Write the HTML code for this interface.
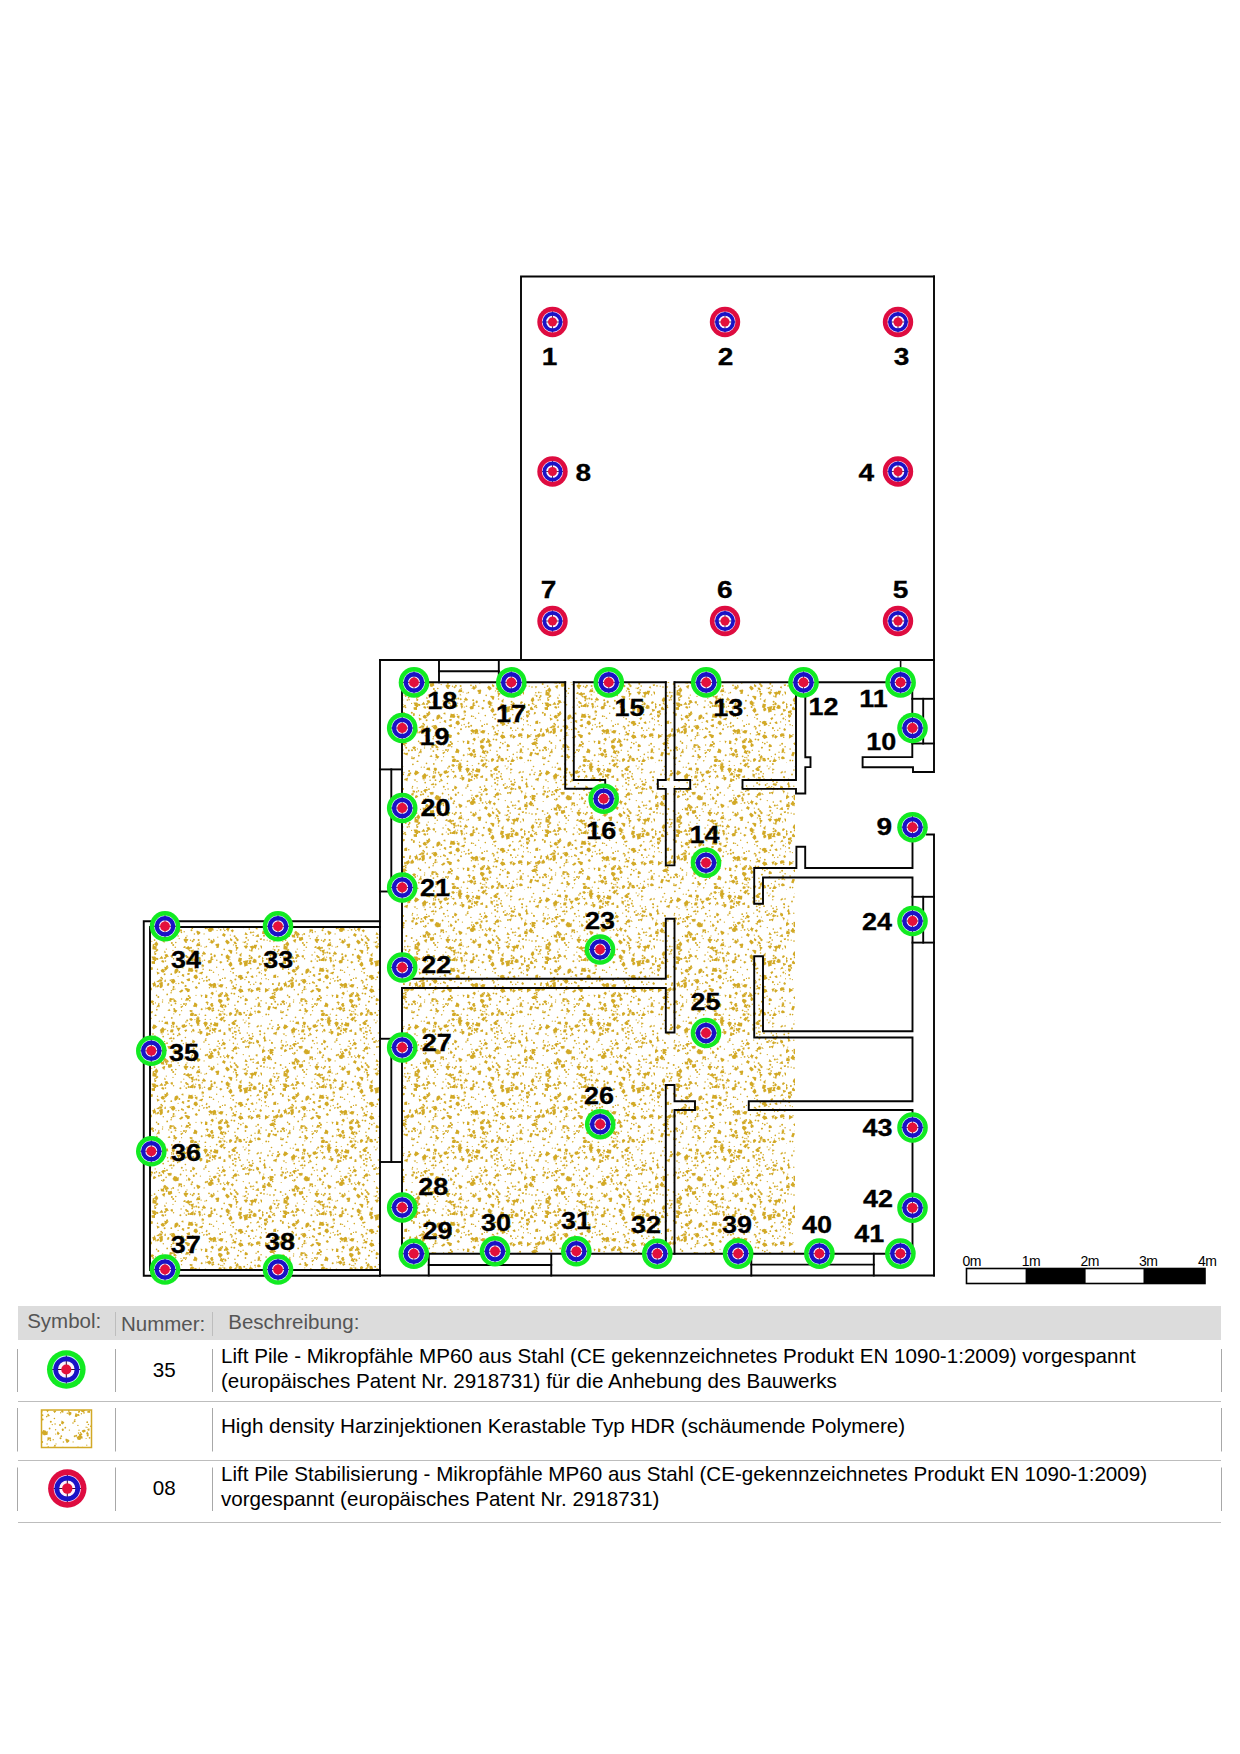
<!DOCTYPE html><html><head><meta charset="utf-8"><style>html,body{margin:0;padding:0;background:#fff;}body{width:1240px;height:1754px;overflow:hidden;position:relative;font-family:"Liberation Sans",sans-serif;}svg{position:absolute;left:0;top:0;}.lbl{font-family:"Liberation Sans",sans-serif;font-weight:bold;font-size:24px;fill:#000;stroke:#000;stroke-width:0.3px;}</style></head><body><svg width="1240" height="1754" viewBox="0 0 1240 1754"><defs><pattern id="sp" patternUnits="userSpaceOnUse" width="131" height="127"><g fill="#d2a926"><circle cx="59.3" cy="71.1" r="0.9"/><circle cx="59.2" cy="108.6" r="0.7"/><circle cx="24.2" cy="65.0" r="1.0"/><circle cx="103.9" cy="12.0" r="0.8"/><circle cx="18.6" cy="68.4" r="0.6"/><circle cx="78.0" cy="50.3" r="0.9"/><circle cx="85.7" cy="78.2" r="0.7"/><circle cx="81.6" cy="105.6" r="0.6"/><circle cx="7.8" cy="24.2" r="0.7"/><circle cx="78.5" cy="98.8" r="0.8"/><circle cx="57.7" cy="107.0" r="1.0"/><circle cx="30.6" cy="37.4" r="0.6"/><circle cx="86.8" cy="58.1" r="0.8"/><circle cx="53.3" cy="70.0" r="0.6"/><circle cx="92.7" cy="40.0" r="0.7"/><circle cx="67.2" cy="3.8" r="1.0"/><circle cx="100.4" cy="50.9" r="0.8"/><circle cx="50.6" cy="121.7" r="0.6"/><circle cx="28.0" cy="117.7" r="0.6"/><circle cx="61.6" cy="124.5" r="0.9"/><circle cx="55.0" cy="71.9" r="0.7"/><circle cx="102.0" cy="34.3" r="0.6"/><circle cx="40.8" cy="1.9" r="0.9"/><circle cx="99.3" cy="15.0" r="0.7"/><circle cx="92.6" cy="1.4" r="0.9"/><circle cx="104.4" cy="22.6" r="1.0"/><circle cx="24.7" cy="64.6" r="0.7"/><circle cx="54.9" cy="48.7" r="0.9"/><circle cx="55.1" cy="27.0" r="0.8"/><circle cx="113.2" cy="123.8" r="1.0"/><circle cx="39.8" cy="112.4" r="0.7"/><circle cx="24.5" cy="126.5" r="1.0"/><circle cx="84.1" cy="12.7" r="0.7"/><circle cx="27.9" cy="32.8" r="1.0"/><circle cx="43.1" cy="37.6" r="0.6"/><circle cx="9.7" cy="26.5" r="0.7"/><circle cx="2.0" cy="46.8" r="1.0"/><circle cx="59.4" cy="121.8" r="0.9"/><circle cx="109.0" cy="17.2" r="0.9"/><circle cx="24.0" cy="19.6" r="0.7"/><circle cx="107.1" cy="31.7" r="0.7"/><circle cx="20.8" cy="79.9" r="1.0"/><circle cx="25.8" cy="120.7" r="0.9"/><circle cx="79.1" cy="53.5" r="0.6"/><circle cx="14.3" cy="65.1" r="0.8"/><circle cx="31.2" cy="89.5" r="0.8"/><circle cx="55.1" cy="114.9" r="0.9"/><circle cx="38.4" cy="22.3" r="0.6"/><circle cx="16.6" cy="60.9" r="1.0"/><circle cx="80.5" cy="35.6" r="0.7"/><circle cx="98.1" cy="8.8" r="0.9"/><circle cx="58.4" cy="7.7" r="0.7"/><circle cx="36.9" cy="67.4" r="0.7"/><circle cx="12.1" cy="17.6" r="0.9"/><circle cx="128.4" cy="83.4" r="1.0"/><circle cx="76.6" cy="17.8" r="0.6"/><circle cx="121.0" cy="60.3" r="0.8"/><circle cx="91.8" cy="122.3" r="0.6"/><circle cx="78.4" cy="9.5" r="0.6"/><circle cx="95.7" cy="40.5" r="0.6"/><circle cx="9.9" cy="69.4" r="0.6"/><circle cx="117.9" cy="93.6" r="0.7"/><circle cx="103.9" cy="116.2" r="0.8"/><circle cx="11.1" cy="60.1" r="0.6"/><circle cx="114.1" cy="53.0" r="0.6"/><circle cx="113.1" cy="72.7" r="1.0"/><circle cx="86.8" cy="48.2" r="0.6"/><circle cx="79.8" cy="10.2" r="0.6"/><circle cx="130.1" cy="111.7" r="0.8"/><circle cx="50.9" cy="93.3" r="1.0"/><circle cx="60.0" cy="58.8" r="1.0"/><circle cx="11.0" cy="95.3" r="0.6"/><circle cx="40.6" cy="11.1" r="0.6"/><circle cx="30.2" cy="88.7" r="0.9"/><circle cx="102.2" cy="83.8" r="0.9"/><circle cx="33.5" cy="1.4" r="0.8"/><circle cx="18.8" cy="77.7" r="1.0"/><circle cx="22.2" cy="115.0" r="0.9"/><circle cx="65.3" cy="30.7" r="0.9"/><circle cx="87.2" cy="25.2" r="0.9"/><circle cx="105.3" cy="95.8" r="0.7"/><circle cx="115.3" cy="48.8" r="1.0"/><circle cx="120.6" cy="26.7" r="0.7"/><circle cx="65.0" cy="106.3" r="0.6"/><circle cx="93.2" cy="120.7" r="0.8"/><circle cx="107.7" cy="14.3" r="0.9"/><circle cx="36.0" cy="27.2" r="0.9"/><circle cx="50.1" cy="66.0" r="0.8"/><circle cx="93.8" cy="106.9" r="1.0"/><circle cx="59.3" cy="9.5" r="0.6"/><circle cx="36.4" cy="77.2" r="0.8"/><circle cx="74.7" cy="39.2" r="1.0"/><circle cx="2.5" cy="17.3" r="0.9"/><circle cx="24.9" cy="97.7" r="0.8"/><circle cx="31.1" cy="17.9" r="0.6"/><circle cx="128.9" cy="14.6" r="0.6"/><circle cx="82.5" cy="83.2" r="0.8"/><circle cx="125.6" cy="86.9" r="0.7"/><circle cx="107.9" cy="32.5" r="0.6"/><circle cx="98.9" cy="67.9" r="0.6"/><circle cx="23.5" cy="34.6" r="0.8"/><circle cx="70.7" cy="120.2" r="1.0"/><circle cx="80.5" cy="96.0" r="0.9"/><circle cx="111.2" cy="88.9" r="0.7"/><circle cx="11.4" cy="118.4" r="0.9"/><circle cx="17.0" cy="57.6" r="0.6"/><circle cx="49.4" cy="72.2" r="1.0"/><circle cx="104.4" cy="119.9" r="0.9"/><circle cx="42.8" cy="124.8" r="0.6"/><circle cx="94.6" cy="103.9" r="0.6"/><circle cx="27.9" cy="114.3" r="0.6"/><circle cx="128.0" cy="68.2" r="0.8"/><circle cx="34.3" cy="91.2" r="0.6"/><circle cx="45.7" cy="10.5" r="0.9"/><circle cx="44.8" cy="53.5" r="0.8"/><circle cx="63.9" cy="3.6" r="0.6"/><circle cx="56.2" cy="4.5" r="1.0"/><circle cx="43.9" cy="100.1" r="0.7"/><circle cx="61.6" cy="127.0" r="1.0"/><circle cx="110.0" cy="87.6" r="0.9"/><circle cx="75.8" cy="87.5" r="0.7"/><circle cx="57.6" cy="71.0" r="1.0"/><circle cx="83.7" cy="66.4" r="1.0"/><circle cx="33.6" cy="85.3" r="1.0"/><circle cx="27.3" cy="108.0" r="1.0"/><circle cx="68.7" cy="72.8" r="0.7"/><circle cx="53.9" cy="14.5" r="0.6"/><circle cx="79.3" cy="3.5" r="0.6"/><circle cx="67.6" cy="50.9" r="1.0"/><circle cx="16.0" cy="11.8" r="0.7"/><circle cx="8.6" cy="68.4" r="0.9"/><circle cx="120.6" cy="101.7" r="0.9"/><circle cx="35.3" cy="60.1" r="0.7"/><circle cx="44.5" cy="114.4" r="0.9"/><circle cx="68.8" cy="13.8" r="0.9"/><circle cx="80.9" cy="117.5" r="0.7"/><circle cx="92.0" cy="124.1" r="0.6"/><circle cx="25.4" cy="28.9" r="0.8"/><circle cx="42.2" cy="45.1" r="1.0"/><circle cx="65.3" cy="63.5" r="1.0"/><circle cx="16.1" cy="64.8" r="0.8"/><circle cx="94.0" cy="89.1" r="0.9"/><circle cx="3.0" cy="80.4" r="1.0"/><circle cx="80.7" cy="68.3" r="1.0"/><circle cx="83.6" cy="67.3" r="1.0"/><circle cx="80.1" cy="108.8" r="0.7"/><circle cx="119.8" cy="79.7" r="0.8"/><circle cx="118.3" cy="40.1" r="0.8"/><circle cx="116.7" cy="24.7" r="0.7"/><circle cx="116.3" cy="17.0" r="0.7"/><circle cx="17.4" cy="11.2" r="0.9"/><circle cx="12.7" cy="105.7" r="0.9"/><circle cx="71.2" cy="89.5" r="0.7"/><circle cx="52.8" cy="87.0" r="0.6"/><circle cx="12.6" cy="72.4" r="0.8"/><circle cx="119.4" cy="123.0" r="0.6"/><circle cx="92.3" cy="80.6" r="0.8"/><circle cx="65.9" cy="87.1" r="0.7"/><circle cx="105.2" cy="61.2" r="0.6"/><circle cx="4.9" cy="70.1" r="1.0"/><circle cx="118.6" cy="61.1" r="0.7"/><circle cx="24.2" cy="25.9" r="0.7"/><circle cx="129.7" cy="117.7" r="0.6"/><circle cx="76.0" cy="17.1" r="0.9"/><circle cx="10.2" cy="12.3" r="0.9"/><circle cx="61.2" cy="65.4" r="0.9"/><circle cx="27.5" cy="47.4" r="0.6"/><circle cx="110.6" cy="23.0" r="0.9"/><circle cx="47.1" cy="47.0" r="0.7"/><circle cx="79.2" cy="12.0" r="0.6"/><circle cx="42.4" cy="10.8" r="0.9"/><circle cx="74.6" cy="24.3" r="1.0"/><circle cx="128.7" cy="102.2" r="0.8"/><circle cx="36.6" cy="14.8" r="0.7"/><circle cx="106.7" cy="51.5" r="0.8"/><circle cx="115.3" cy="88.2" r="0.9"/><circle cx="100.2" cy="51.5" r="0.7"/><circle cx="9.2" cy="43.4" r="0.9"/><circle cx="13.2" cy="112.8" r="1.0"/><circle cx="6.5" cy="34.7" r="0.8"/><circle cx="44.3" cy="83.8" r="1.0"/><circle cx="23.8" cy="9.8" r="1.0"/><circle cx="131.0" cy="81.6" r="0.6"/><circle cx="99.8" cy="124.5" r="0.6"/><circle cx="15.0" cy="13.7" r="0.7"/><circle cx="33.6" cy="51.0" r="0.6"/><circle cx="99.7" cy="82.3" r="0.6"/><circle cx="12.9" cy="31.9" r="0.8"/><circle cx="72.1" cy="64.5" r="1.0"/><circle cx="74.4" cy="126.4" r="0.9"/><circle cx="106.0" cy="9.7" r="1.0"/><circle cx="87.6" cy="121.3" r="0.9"/><circle cx="121.9" cy="20.3" r="0.9"/><circle cx="127.1" cy="108.7" r="1.0"/><circle cx="80.1" cy="7.4" r="0.9"/><circle cx="55.1" cy="66.9" r="1.0"/><circle cx="40.9" cy="67.4" r="0.9"/><circle cx="85.8" cy="71.2" r="0.8"/><circle cx="86.9" cy="95.0" r="0.6"/><circle cx="1.8" cy="31.1" r="0.6"/><circle cx="82.9" cy="51.9" r="0.9"/><circle cx="6.9" cy="40.0" r="0.9"/><circle cx="6.6" cy="125.6" r="0.8"/><circle cx="9.6" cy="115.0" r="0.9"/><circle cx="94.2" cy="31.9" r="0.7"/><circle cx="6.0" cy="12.5" r="0.9"/><circle cx="18.9" cy="121.9" r="0.7"/><circle cx="79.1" cy="14.6" r="1.0"/><circle cx="54.6" cy="15.0" r="0.6"/><circle cx="46.7" cy="19.6" r="0.8"/><circle cx="58.0" cy="84.8" r="0.9"/><circle cx="78.7" cy="81.2" r="0.9"/><circle cx="47.7" cy="94.5" r="0.7"/><circle cx="124.8" cy="93.3" r="0.7"/><circle cx="63.0" cy="63.9" r="0.8"/><circle cx="102.7" cy="79.4" r="0.8"/><circle cx="36.0" cy="77.4" r="1.0"/><circle cx="91.6" cy="24.1" r="0.8"/><circle cx="98.7" cy="24.1" r="0.7"/><circle cx="65.8" cy="82.9" r="0.7"/><circle cx="115.1" cy="5.0" r="0.6"/><circle cx="1.2" cy="33.0" r="0.6"/><circle cx="81.7" cy="13.0" r="1.0"/><circle cx="36.5" cy="96.0" r="0.7"/><circle cx="72.1" cy="80.2" r="0.8"/><circle cx="63.4" cy="45.0" r="0.8"/><circle cx="45.0" cy="94.6" r="0.6"/><circle cx="105.1" cy="56.8" r="1.0"/><circle cx="109.8" cy="97.7" r="0.9"/><circle cx="55.6" cy="32.8" r="0.7"/><circle cx="48.3" cy="83.0" r="1.0"/><circle cx="42.6" cy="69.7" r="0.7"/><circle cx="56.0" cy="46.9" r="0.6"/><circle cx="60.5" cy="41.2" r="1.0"/><circle cx="10.9" cy="71.7" r="0.9"/><circle cx="106.8" cy="58.9" r="0.6"/><circle cx="10.0" cy="27.1" r="1.0"/><circle cx="10.7" cy="38.6" r="0.8"/><circle cx="37.1" cy="18.2" r="0.8"/><circle cx="86.1" cy="41.5" r="0.6"/><circle cx="42.2" cy="56.0" r="1.0"/><circle cx="120.3" cy="119.4" r="0.8"/><circle cx="57.4" cy="102.0" r="0.8"/><circle cx="60.0" cy="28.1" r="1.0"/><circle cx="32.5" cy="45.9" r="0.8"/><circle cx="3.2" cy="86.0" r="1.0"/><circle cx="50.8" cy="24.8" r="1.0"/><circle cx="48.2" cy="49.6" r="0.7"/><circle cx="109.6" cy="71.5" r="0.7"/><circle cx="11.8" cy="57.7" r="0.8"/><circle cx="106.4" cy="28.1" r="0.6"/><circle cx="71.3" cy="72.1" r="0.6"/><circle cx="85.3" cy="102.1" r="0.6"/><circle cx="76.2" cy="38.8" r="1.0"/><circle cx="11.0" cy="10.4" r="0.6"/><circle cx="117.8" cy="10.8" r="0.7"/><circle cx="12.8" cy="103.7" r="0.9"/><circle cx="32.2" cy="28.0" r="1.0"/><circle cx="44.3" cy="58.3" r="0.8"/><circle cx="44.3" cy="123.0" r="0.7"/><circle cx="64.7" cy="68.2" r="0.6"/><circle cx="92.8" cy="116.2" r="0.9"/><circle cx="99.2" cy="125.2" r="0.8"/><circle cx="111.8" cy="102.4" r="0.6"/><circle cx="116.4" cy="121.6" r="0.6"/><circle cx="68.6" cy="90.2" r="0.6"/><circle cx="55.2" cy="53.4" r="0.7"/><circle cx="32.2" cy="20.6" r="0.9"/><circle cx="89.6" cy="40.8" r="0.9"/><circle cx="55.7" cy="37.1" r="0.6"/><circle cx="61.8" cy="92.8" r="0.8"/><circle cx="84.9" cy="98.5" r="0.7"/><circle cx="119.5" cy="95.6" r="0.6"/><circle cx="76.5" cy="115.5" r="0.6"/><circle cx="40.9" cy="25.1" r="0.8"/><circle cx="28.5" cy="29.9" r="0.9"/><circle cx="77.9" cy="28.4" r="0.7"/><circle cx="117.2" cy="51.1" r="0.8"/><circle cx="82.1" cy="119.6" r="1.0"/><circle cx="62.8" cy="33.1" r="0.9"/><circle cx="119.8" cy="43.4" r="1.0"/><circle cx="101.1" cy="11.7" r="0.7"/><circle cx="52.3" cy="27.6" r="0.7"/><circle cx="105.0" cy="48.9" r="1.0"/><circle cx="104.1" cy="98.3" r="0.6"/><circle cx="86.1" cy="30.2" r="0.6"/><circle cx="114.5" cy="115.0" r="0.9"/><circle cx="104.4" cy="90.6" r="1.0"/><circle cx="114.6" cy="52.8" r="0.8"/><circle cx="19.0" cy="115.3" r="1.0"/><circle cx="17.2" cy="94.2" r="1.0"/><circle cx="34.9" cy="67.9" r="0.7"/><circle cx="74.9" cy="22.6" r="0.7"/><circle cx="107.6" cy="107.5" r="0.7"/><circle cx="10.8" cy="34.3" r="1.0"/><circle cx="12.7" cy="61.0" r="0.9"/><circle cx="10.9" cy="95.1" r="1.0"/><circle cx="112.3" cy="38.6" r="0.7"/><circle cx="54.6" cy="116.4" r="0.6"/><circle cx="102.4" cy="55.9" r="0.6"/><circle cx="71.2" cy="66.8" r="0.7"/><circle cx="124.0" cy="122.4" r="0.8"/><circle cx="40.7" cy="9.7" r="0.8"/><circle cx="130.6" cy="84.7" r="0.6"/><circle cx="47.1" cy="87.3" r="0.6"/><circle cx="87.5" cy="85.8" r="0.6"/><circle cx="85.7" cy="1.6" r="0.9"/><circle cx="93.2" cy="60.4" r="0.8"/><circle cx="73.9" cy="58.2" r="0.6"/><circle cx="112.1" cy="107.3" r="0.7"/><circle cx="118.1" cy="19.3" r="0.9"/><circle cx="122.8" cy="95.2" r="0.8"/><circle cx="98.9" cy="70.6" r="0.6"/><circle cx="33.6" cy="25.4" r="0.6"/><circle cx="43.2" cy="120.0" r="1.0"/><circle cx="61.5" cy="81.3" r="0.9"/><circle cx="108.3" cy="11.7" r="0.7"/><circle cx="81.4" cy="16.7" r="0.7"/><circle cx="23.6" cy="51.1" r="0.9"/><circle cx="77.6" cy="11.4" r="0.7"/><circle cx="4.2" cy="125.4" r="0.9"/><circle cx="53.3" cy="9.2" r="0.9"/><circle cx="121.4" cy="17.7" r="0.7"/><circle cx="100.5" cy="104.3" r="0.9"/><circle cx="63.2" cy="117.0" r="1.0"/><circle cx="2.0" cy="50.9" r="0.8"/><circle cx="128.6" cy="100.3" r="1.0"/><circle cx="69.4" cy="33.1" r="0.7"/><circle cx="44.8" cy="82.6" r="0.6"/><circle cx="73.0" cy="26.0" r="0.8"/><circle cx="103.3" cy="104.8" r="1.0"/><circle cx="93.5" cy="32.2" r="1.0"/><circle cx="118.3" cy="69.6" r="0.8"/><circle cx="80.2" cy="65.2" r="1.0"/><circle cx="93.5" cy="125.3" r="1.0"/><circle cx="130.8" cy="89.8" r="0.7"/><circle cx="74.3" cy="3.4" r="0.7"/><circle cx="101.7" cy="17.3" r="0.9"/><circle cx="75.5" cy="88.5" r="0.8"/><circle cx="12.0" cy="110.8" r="0.8"/><circle cx="60.7" cy="15.8" r="0.7"/><circle cx="31.3" cy="72.3" r="1.0"/><circle cx="73.5" cy="71.2" r="0.8"/><circle cx="22.1" cy="94.7" r="0.8"/><circle cx="78.8" cy="15.6" r="0.6"/><circle cx="37.8" cy="113.9" r="0.7"/><circle cx="99.3" cy="46.1" r="0.7"/><circle cx="24.3" cy="69.6" r="0.6"/><circle cx="59.5" cy="51.2" r="0.7"/><circle cx="40.3" cy="85.2" r="0.9"/><circle cx="80.6" cy="81.3" r="0.6"/><circle cx="20.8" cy="52.3" r="0.6"/><circle cx="18.7" cy="49.1" r="1.0"/><circle cx="53.2" cy="42.7" r="0.7"/><circle cx="34.5" cy="72.1" r="0.8"/><circle cx="7.0" cy="99.6" r="0.7"/><circle cx="52.8" cy="63.2" r="0.6"/><circle cx="61.6" cy="52.3" r="1.0"/><circle cx="119.6" cy="71.7" r="0.9"/><circle cx="98.5" cy="61.7" r="0.9"/><circle cx="109.8" cy="108.6" r="0.9"/><circle cx="108.1" cy="14.9" r="0.6"/><circle cx="118.6" cy="66.8" r="1.0"/><circle cx="68.2" cy="53.4" r="0.6"/><circle cx="42.0" cy="6.9" r="1.0"/><circle cx="117.9" cy="93.0" r="1.0"/><circle cx="42.2" cy="100.3" r="1.0"/><circle cx="114.9" cy="31.0" r="0.9"/><circle cx="31.7" cy="110.9" r="0.6"/><circle cx="62.3" cy="13.4" r="0.7"/><circle cx="71.4" cy="83.4" r="0.7"/><circle cx="115.2" cy="126.9" r="0.8"/><circle cx="113.5" cy="53.5" r="0.7"/><circle cx="29.1" cy="94.8" r="1.0"/><circle cx="16.1" cy="9.1" r="1.0"/><circle cx="103.8" cy="15.7" r="1.0"/><circle cx="75.4" cy="57.6" r="0.8"/><circle cx="32.0" cy="38.0" r="0.8"/><circle cx="22.5" cy="56.0" r="0.9"/><circle cx="106.8" cy="50.5" r="0.8"/><circle cx="90.7" cy="29.3" r="0.8"/><circle cx="4.1" cy="114.1" r="0.8"/><circle cx="42.5" cy="18.2" r="0.9"/><circle cx="115.1" cy="25.7" r="0.6"/><circle cx="25.6" cy="106.4" r="0.8"/><circle cx="117.8" cy="2.0" r="1.0"/><circle cx="26.5" cy="80.3" r="0.7"/><circle cx="124.4" cy="124.0" r="0.6"/><circle cx="40.1" cy="103.8" r="0.8"/><circle cx="113.9" cy="90.6" r="0.7"/><circle cx="43.9" cy="121.5" r="0.9"/><circle cx="54.4" cy="21.5" r="0.8"/><circle cx="15.8" cy="87.8" r="0.8"/><circle cx="23.7" cy="29.9" r="0.8"/><circle cx="103.6" cy="47.3" r="1.0"/><circle cx="115.9" cy="74.9" r="0.7"/><circle cx="128.0" cy="113.7" r="0.7"/><circle cx="87.4" cy="35.2" r="0.6"/><circle cx="60.6" cy="9.7" r="1.0"/><circle cx="9.7" cy="115.2" r="0.6"/><circle cx="78.6" cy="36.1" r="0.8"/><circle cx="55.5" cy="72.2" r="0.7"/><circle cx="37.4" cy="96.0" r="0.7"/><circle cx="23.5" cy="93.2" r="0.6"/><circle cx="24.4" cy="113.9" r="0.6"/><circle cx="81.5" cy="116.4" r="1.0"/><circle cx="50.4" cy="118.0" r="0.9"/><circle cx="7.9" cy="8.1" r="0.8"/><circle cx="42.0" cy="61.4" r="0.6"/><circle cx="67.7" cy="64.2" r="1.0"/><circle cx="97.5" cy="67.5" r="1.0"/><circle cx="102.1" cy="21.0" r="1.0"/><circle cx="57.1" cy="84.9" r="1.0"/><circle cx="101.3" cy="99.9" r="0.7"/><circle cx="34.0" cy="69.1" r="1.0"/><circle cx="79.0" cy="33.2" r="0.7"/><circle cx="78.2" cy="90.8" r="1.0"/><circle cx="58.7" cy="111.8" r="0.8"/><circle cx="19.9" cy="2.3" r="0.9"/><circle cx="105.6" cy="64.0" r="0.8"/><circle cx="112.2" cy="3.9" r="0.6"/><circle cx="118.9" cy="72.2" r="1.0"/><circle cx="75.9" cy="91.7" r="1.0"/><circle cx="19.2" cy="39.5" r="0.6"/><circle cx="91.1" cy="104.1" r="1.0"/><circle cx="102.3" cy="97.2" r="0.9"/><circle cx="11.6" cy="104.2" r="0.7"/><circle cx="49.6" cy="31.5" r="0.9"/><circle cx="90.5" cy="105.5" r="0.9"/><circle cx="8.0" cy="52.1" r="0.8"/><circle cx="91.5" cy="89.4" r="0.6"/><circle cx="16.8" cy="95.9" r="1.0"/><circle cx="129.2" cy="18.4" r="0.9"/><circle cx="68.3" cy="125.2" r="0.6"/><circle cx="31.5" cy="113.0" r="0.7"/><circle cx="12.0" cy="70.6" r="0.9"/><circle cx="55.6" cy="9.7" r="0.6"/><circle cx="89.1" cy="91.1" r="1.0"/><circle cx="30.1" cy="32.2" r="1.0"/><circle cx="112.1" cy="53.1" r="0.6"/><circle cx="122.2" cy="46.2" r="0.8"/><circle cx="124.0" cy="117.2" r="0.7"/><circle cx="5.2" cy="51.2" r="0.6"/><circle cx="96.6" cy="72.1" r="1.0"/><circle cx="121.0" cy="22.5" r="0.9"/><circle cx="122.5" cy="27.1" r="0.9"/><circle cx="102.4" cy="27.4" r="0.8"/><circle cx="32.3" cy="100.7" r="0.7"/><circle cx="62.9" cy="50.8" r="1.0"/><circle cx="61.3" cy="39.2" r="0.9"/><circle cx="64.2" cy="79.6" r="0.7"/><circle cx="113.0" cy="26.0" r="0.9"/><circle cx="54.9" cy="6.0" r="0.8"/><circle cx="47.5" cy="34.9" r="0.6"/><circle cx="68.0" cy="94.2" r="1.0"/><circle cx="51.5" cy="117.3" r="0.7"/><circle cx="35.2" cy="45.9" r="0.7"/><circle cx="95.4" cy="98.7" r="0.7"/><circle cx="100.3" cy="91.9" r="0.6"/><circle cx="2.7" cy="40.9" r="0.9"/><circle cx="58.9" cy="108.5" r="0.9"/><circle cx="42.6" cy="97.9" r="1.0"/><circle cx="87.7" cy="38.4" r="1.0"/><circle cx="31.2" cy="5.2" r="0.7"/><circle cx="67.3" cy="16.2" r="0.7"/><circle cx="40.9" cy="53.9" r="1.0"/><circle cx="90.9" cy="65.7" r="1.0"/><circle cx="34.1" cy="92.1" r="0.9"/><circle cx="19.3" cy="26.0" r="0.8"/><circle cx="70.1" cy="57.1" r="0.7"/><circle cx="50.6" cy="110.0" r="0.7"/><circle cx="13.4" cy="47.0" r="1.0"/><circle cx="28.3" cy="5.2" r="0.6"/><circle cx="97.9" cy="61.3" r="0.6"/><circle cx="105.9" cy="123.9" r="0.8"/><circle cx="86.5" cy="8.5" r="0.7"/><circle cx="73.1" cy="44.9" r="0.6"/><circle cx="125.1" cy="110.3" r="0.7"/><circle cx="102.6" cy="33.0" r="0.9"/><circle cx="15.7" cy="62.6" r="0.9"/><circle cx="50.2" cy="41.7" r="0.9"/><circle cx="92.1" cy="28.1" r="0.9"/><circle cx="26.5" cy="97.6" r="0.8"/><circle cx="87.1" cy="30.5" r="0.6"/><circle cx="97.3" cy="115.3" r="0.7"/><circle cx="62.7" cy="32.6" r="1.0"/><circle cx="40.4" cy="116.1" r="0.9"/><circle cx="15.8" cy="115.5" r="0.9"/><circle cx="35.6" cy="47.9" r="1.0"/><circle cx="39.3" cy="91.3" r="0.8"/><circle cx="9.5" cy="4.5" r="0.8"/><circle cx="116.8" cy="71.8" r="0.8"/><circle cx="106.8" cy="112.7" r="0.9"/><circle cx="50.4" cy="43.4" r="0.8"/><circle cx="4.1" cy="89.8" r="0.7"/><circle cx="101.1" cy="79.7" r="1.0"/><circle cx="71.1" cy="77.8" r="0.6"/><circle cx="36.2" cy="105.4" r="0.9"/><circle cx="50.0" cy="115.5" r="0.6"/><circle cx="105.3" cy="86.8" r="0.8"/><circle cx="40.4" cy="45.8" r="0.6"/><circle cx="19.6" cy="24.4" r="0.7"/><circle cx="33.8" cy="27.9" r="1.0"/><circle cx="0.1" cy="69.1" r="0.9"/><circle cx="0.5" cy="69.5" r="1.0"/><circle cx="10.4" cy="104.6" r="0.8"/><circle cx="34.6" cy="13.2" r="0.6"/><circle cx="41.0" cy="90.9" r="0.9"/><circle cx="89.9" cy="122.4" r="0.7"/><circle cx="20.9" cy="78.9" r="0.9"/><circle cx="105.5" cy="37.3" r="0.9"/><circle cx="37.4" cy="95.1" r="1.0"/><circle cx="65.3" cy="82.1" r="0.8"/><circle cx="42.6" cy="22.6" r="1.0"/><circle cx="96.6" cy="111.4" r="0.6"/><circle cx="107.1" cy="112.5" r="0.8"/><circle cx="14.8" cy="57.4" r="0.9"/><circle cx="5.3" cy="78.9" r="0.9"/><circle cx="113.9" cy="6.8" r="0.8"/><circle cx="52.1" cy="93.9" r="0.9"/><circle cx="33.1" cy="80.6" r="0.8"/><circle cx="93.8" cy="41.5" r="0.8"/><circle cx="112.1" cy="26.0" r="1.0"/><circle cx="108.5" cy="72.1" r="0.9"/><circle cx="84.0" cy="15.9" r="0.8"/><circle cx="105.0" cy="15.9" r="0.9"/><circle cx="81.4" cy="37.1" r="0.7"/><circle cx="127.6" cy="59.9" r="0.7"/><circle cx="35.1" cy="34.4" r="0.8"/><circle cx="82.7" cy="50.4" r="0.7"/><circle cx="6.4" cy="90.6" r="0.6"/><circle cx="114.1" cy="24.6" r="0.8"/><circle cx="95.8" cy="126.2" r="0.6"/><circle cx="53.0" cy="114.9" r="1.0"/><circle cx="112.1" cy="21.7" r="0.6"/><circle cx="40.5" cy="101.7" r="0.8"/><circle cx="29.3" cy="91.7" r="0.9"/><circle cx="100.3" cy="124.6" r="0.9"/><circle cx="88.4" cy="27.5" r="0.8"/><circle cx="104.8" cy="18.7" r="0.7"/><polygon points="106.9,72.6 107.8,68.5 111.1,69.3 110.2,72.2"/><polygon points="27.3,70.8 26.6,71.1 24.6,70.5 25.2,68.8 27.2,69.1"/><polygon points="105.0,49.2 106.9,49.5 105.7,52.2"/><polygon points="76.0,119.4 74.4,120.8 74.6,118.1"/><polygon points="66.4,2.0 66.5,-0.2 68.6,1.6"/><polygon points="67.3,84.2 71.4,82.6 71.3,85.6"/><polygon points="43.0,89.7 44.3,91.9 42.3,93.9 41.2,93.5 41.3,90.6"/><polygon points="96.9,70.7 96.2,69.3 97.2,68.2 98.9,68.2 98.0,71.1"/><polygon points="3.8,24.1 0.8,22.2 2.9,19.6"/><polygon points="25.4,34.3 24.2,35.6 22.1,36.3 22.1,34.1 23.1,33.1"/><polygon points="55.2,90.5 58.6,89.1 59.2,91.7 57.0,92.3"/><polygon points="76.5,72.4 77.8,71.1 80.8,71.3 80.4,74.1 77.6,74.4"/><polygon points="62.3,72.3 58.8,71.4 62.6,67.2"/><polygon points="108.8,102.5 107.1,101.9 107.8,100.3 109.1,99.8 110.6,102.1"/><polygon points="28.6,14.3 31.8,11.0 34.1,13.6 30.9,15.4"/><polygon points="49.8,11.7 47.5,15.4 45.4,11.7"/><polygon points="61.5,65.2 59.1,61.2 63.0,60.6"/><polygon points="3.9,42.7 3.5,45.5 -0.1,44.6 0.7,41.5"/><polygon points="33.8,45.7 32.4,44.4 32.4,43.0 33.9,41.8 36.0,43.5"/><polygon points="54.7,58.8 53.3,59.1 51.9,58.6 53.6,56.9 54.6,57.4"/><polygon points="61.0,26.5 61.6,23.5 64.4,25.3 62.9,27.5"/><polygon points="33.1,50.8 33.6,54.3 30.6,51.6"/><polygon points="85.2,58.9 85.9,56.3 87.7,58.4"/><polygon points="3.7,81.6 2.1,80.8 2.4,79.6 4.3,80.0"/><polygon points="32.4,69.7 28.2,69.8 30.7,66.7"/><polygon points="48.2,16.4 50.0,18.9 47.6,19.4 47.3,17.3"/><polygon points="117.2,54.2 116.6,55.9 114.5,54.8"/><polygon points="12.4,100.1 15.9,98.0 16.9,100.8 14.0,102.9"/><polygon points="58.9,125.0 60.5,123.5 63.2,124.5 62.0,127.2 59.5,127.4"/><polygon points="126.2,50.7 127.3,53.4 124.8,52.7"/><polygon points="65.1,113.9 66.5,115.8 65.5,118.4 62.7,116.8 63.3,113.6"/><polygon points="125.6,73.5 123.2,74.1 121.2,73.1 122.9,69.6 125.4,70.8"/><polygon points="39.1,67.1 41.6,65.8 41.5,69.3"/><polygon points="28.9,96.3 28.9,93.5 31.7,92.8 31.8,97.4"/><polygon points="25.5,96.9 27.7,95.6 28.5,97.9"/><polygon points="103.7,55.3 102.4,52.8 104.4,52.4 106.1,55.0"/><polygon points="83.0,6.0 84.9,6.6 84.8,8.6 83.4,7.8"/><polygon points="98.2,52.6 98.7,54.0 96.3,55.6 94.1,52.6 95.8,50.6"/><polygon points="93.7,106.1 95.7,103.4 97.9,107.0 95.2,108.1"/><polygon points="70.1,108.4 69.6,105.5 71.7,106.3"/><polygon points="58.4,102.8 56.4,103.2 55.4,101.6 56.3,99.2 59.0,100.2"/><polygon points="76.2,108.9 73.9,108.9 74.2,105.2 76.5,105.9"/><polygon points="120.2,100.1 123.0,101.6 120.5,103.7 119.3,102.3"/><polygon points="99.1,14.7 97.5,14.5 97.5,11.5 100.4,12.6"/><polygon points="40.1,33.0 37.8,31.6 41.0,30.0"/><polygon points="121.7,86.2 122.7,88.4 121.1,88.9 119.3,87.6"/><polygon points="86.2,36.7 86.7,35.2 88.5,35.9 88.7,37.7 87.0,37.8"/><polygon points="94.6,66.7 96.6,65.3 98.4,68.0 97.1,70.2 94.9,69.2"/><polygon points="83.5,35.7 81.9,34.5 81.9,33.4 84.2,32.6 86.1,34.1"/><polygon points="38.8,109.1 43.5,109.8 38.0,112.8"/><polygon points="121.2,70.6 119.0,69.5 120.0,67.0 121.8,68.3"/><polygon points="64.6,69.9 64.8,71.3 63.2,72.4 62.5,71.2 63.7,69.3"/><polygon points="103.4,125.2 105.3,124.1 105.7,126.1 104.0,129.2 103.3,127.8"/><polygon points="109.1,85.7 111.6,86.5 110.2,89.1 107.6,89.3 106.5,87.0"/><polygon points="115.4,30.6 118.8,29.3 117.8,32.4"/><polygon points="20.9,31.0 20.3,33.7 18.2,32.9 18.5,31.3"/><polygon points="8.1,62.5 9.7,62.4 10.4,65.2 8.4,67.6 6.6,65.3"/><polygon points="117.3,126.6 119.1,123.7 122.0,125.3 119.6,127.7"/><polygon points="126.5,118.0 126.9,114.4 129.7,117.2"/><polygon points="122.2,42.2 123.7,43.4 120.5,44.1"/><polygon points="126.3,55.7 124.6,60.2 122.7,58.2 123.0,55.7"/><polygon points="36.1,64.9 37.2,66.5 35.8,68.7 33.9,66.8 33.7,65.4"/><polygon points="86.0,12.8 83.4,15.6 80.9,14.5 83.9,11.7"/><polygon points="101.9,51.3 98.8,51.3 99.3,48.8"/><polygon points="81.3,8.0 79.5,9.5 79.4,6.7"/><polygon points="80.5,39.5 82.4,39.2 82.7,41.4 80.8,41.6"/><polygon points="118.3,83.2 116.6,85.2 115.2,83.6 117.2,81.9"/><polygon points="14.1,89.1 11.1,88.7 11.5,85.9 14.2,85.5"/><polygon points="72.0,7.2 74.0,5.4 76.6,6.2 75.2,9.4"/><polygon points="102.3,33.4 103.2,31.0 105.2,30.1 106.3,32.6 105.2,33.8"/><polygon points="108.8,99.3 111.9,100.7 112.1,102.8 109.1,104.1 107.5,101.6"/><polygon points="69.3,43.1 69.2,44.4 66.9,46.3 65.3,42.9 65.9,41.5"/><polygon points="99.6,123.1 101.2,124.3 99.9,126.5 98.4,127.0 97.9,124.0"/><polygon points="95.1,4.2 93.0,6.5 91.9,3.5"/><polygon points="92.9,2.1 90.6,5.3 88.2,3.4 90.5,0.9"/><polygon points="46.6,35.7 44.4,38.4 41.4,35.9 43.2,33.1 45.2,33.6"/><polygon points="46.4,121.4 45.2,123.3 42.1,122.6 43.4,120.2"/><polygon points="92.5,95.5 91.3,98.5 89.7,98.6 86.8,97.1 89.7,94.9"/><polygon points="125.5,101.9 124.8,99.4 126.5,98.3 129.4,98.5 127.7,101.4"/><polygon points="11.2,33.3 10.7,35.3 8.7,35.9 7.3,34.0 7.7,32.8"/><polygon points="33.3,72.9 31.9,74.1 31.2,71.5 32.7,71.4"/><polygon points="129.8,14.2 130.1,16.3 128.6,16.1 127.7,15.0"/><polygon points="26.3,85.7 25.6,82.6 29.0,83.9"/><polygon points="112.6,57.0 115.8,56.2 117.0,57.4 115.0,60.0"/><polygon points="130.4,60.0 129.1,56.4 131.9,57.0"/><polygon points="53.4,97.9 53.9,95.8 55.5,96.3 55.6,97.8"/><polygon points="84.5,10.4 83.0,8.3 85.2,6.7 87.3,6.7 87.0,10.6"/><polygon points="68.7,1.8 67.3,4.4 65.4,4.5 65.2,1.5 66.3,1.5"/><polygon points="62.8,69.8 61.7,72.2 58.4,71.1 60.6,68.9"/><polygon points="34.0,45.2 36.2,43.4 37.9,45.3 37.0,46.4 34.2,46.9"/><polygon points="2.0,22.6 4.9,25.0 1.9,25.7"/><polygon points="42.3,109.2 46.0,112.5 42.7,113.2"/><polygon points="73.2,75.9 72.4,78.2 70.2,76.3 71.2,75.2"/><polygon points="93.1,29.4 90.8,27.4 92.6,25.6 95.0,27.8"/><polygon points="76.5,10.0 78.5,13.3 74.2,13.4"/><polygon points="79.5,68.4 82.8,70.3 79.4,72.0"/><polygon points="32.0,37.9 31.7,36.6 33.2,35.8 33.8,37.7"/><polygon points="114.4,108.8 116.6,109.9 116.8,112.1 113.7,112.3 113.8,110.2"/><polygon points="37.2,48.7 40.7,47.7 41.3,50.4 38.8,52.0 36.8,51.1"/><polygon points="114.8,127.2 114.3,125.3 116.7,125.5"/><polygon points="130.7,10.7 128.5,10.2 130.6,8.7"/><polygon points="101.4,76.3 99.5,78.0 97.2,75.4 99.5,72.4 101.0,74.1"/><polygon points="94.4,115.6 95.6,117.2 95.0,118.5 93.2,118.3 93.7,116.8"/><polygon points="3.0,98.9 7.5,101.1 2.9,103.8"/><polygon points="98.8,39.1 97.1,43.1 95.1,39.6"/><polygon points="23.4,64.4 23.0,62.4 25.5,62.1"/><polygon points="108.8,87.4 111.4,87.6 112.6,89.3 110.8,90.5 108.8,91.0"/><polygon points="47.5,40.2 51.0,40.5 47.4,44.3"/><polygon points="59.1,60.5 59.3,63.1 57.2,61.1"/><polygon points="101.5,92.2 98.3,92.2 99.7,90.4"/><polygon points="94.4,16.4 94.5,18.9 92.3,18.9 92.8,16.1"/><polygon points="20.9,68.8 20.6,67.4 23.3,67.5 23.2,70.0"/><polygon points="54.9,101.4 53.5,99.2 56.1,99.1 56.7,100.7"/><polygon points="40.4,29.7 38.1,33.5 36.2,30.3"/><polygon points="96.0,107.6 98.8,109.7 98.3,111.6 95.3,111.3"/><polygon points="33.8,61.5 35.1,63.8 32.8,63.4"/><polygon points="57.6,109.7 58.6,107.5 60.1,109.2"/><polygon points="-1.2,-1.5 1.9,-0.9 -1.5,2.0"/><polygon points="21.4,60.2 21.6,56.5 25.7,57.4 25.4,60.9"/><polygon points="125.5,23.5 128.0,24.7 128.1,27.0 126.0,27.6 125.1,25.4"/><polygon points="89.4,31.2 89.6,33.5 88.0,33.8 87.2,32.0"/><polygon points="71.4,15.2 71.4,17.2 69.6,18.7 68.2,17.0 68.6,14.6"/><polygon points="59.8,36.4 57.9,38.2 56.8,36.2 57.7,34.3"/><polygon points="87.4,126.3 88.0,124.2 90.3,124.5 90.8,126.3 88.8,126.9"/><polygon points="50.5,10.7 50.8,8.8 53.8,8.4 55.5,10.7 52.1,11.9"/><polygon points="23.1,17.6 22.1,19.3 20.6,17.6"/><polygon points="5.1,120.5 6.5,116.8 9.0,117.4 7.4,121.4"/><polygon points="120.7,21.4 121.0,24.0 117.6,23.0 118.2,21.2"/><polygon points="117.9,103.3 116.5,100.0 119.9,99.1"/><polygon points="113.4,77.8 112.9,74.1 115.0,73.9 117.2,76.3"/><polygon points="66.6,82.3 64.7,83.0 63.6,81.1 66.4,80.6"/><polygon points="102.7,98.1 105.4,98.0 105.1,100.6 101.9,100.1"/><polygon points="90.8,107.6 87.5,108.5 86.7,105.8 89.5,104.9"/><polygon points="128.2,68.6 127.1,67.4 127.8,66.5 129.1,66.2 130.0,67.7"/><polygon points="5.4,81.1 3.4,83.1 2.1,81.4 4.1,79.4"/><polygon points="64.9,57.3 66.2,54.3 69.2,54.5 69.1,57.0"/><polygon points="11.8,53.6 10.8,51.2 13.3,51.5"/><polygon points="39.0,16.3 39.6,13.6 42.4,13.3 42.5,14.8 41.8,16.5"/><polygon points="126.3,40.8 124.6,39.8 124.8,38.2 126.8,38.6"/><polygon points="118.9,25.1 120.2,27.0 118.7,28.5 116.7,27.0"/><polygon points="11.5,16.9 15.1,15.6 14.3,19.4"/><polygon points="87.8,54.5 88.3,55.5 87.6,58.5 84.3,56.3 84.6,55.0"/><polygon points="30.4,83.1 29.6,81.2 31.6,79.8 34.2,82.3 32.3,83.7"/><polygon points="70.3,70.6 69.3,72.9 67.4,71.2"/><polygon points="101.9,9.0 100.1,7.1 102.8,4.8 104.7,7.7 104.2,9.1"/><polygon points="99.8,94.0 101.2,91.9 101.8,93.1 101.0,94.9"/><polygon points="12.5,106.9 14.3,108.8 11.9,109.4 11.0,107.1"/><polygon points="67.3,4.6 68.7,7.8 66.1,8.7 64.6,5.4"/><polygon points="63.6,98.0 65.6,97.1 67.0,99.1 65.0,100.1"/><polygon points="37.3,8.5 33.1,7.8 34.0,5.7 36.9,5.6"/><polygon points="56.5,52.0 54.3,53.7 52.4,50.7 53.8,49.5 57.5,50.3"/><polygon points="110.8,63.4 110.2,68.0 108.0,66.1"/><polygon points="76.1,112.3 77.9,113.7 76.5,115.1 74.3,113.6"/><polygon points="99.9,34.7 102.4,33.7 103.0,36.0"/><polygon points="24.0,75.1 20.8,74.8 20.5,72.2 24.0,71.9"/><polygon points="78.7,117.4 80.7,119.8 78.2,121.7 75.9,119.5 76.4,118.6"/><polygon points="29.0,93.3 25.2,93.1 27.5,91.0"/><polygon points="119.0,71.8 120.7,75.2 116.6,75.0"/><polygon points="18.8,122.3 20.4,124.2 18.0,123.9"/><polygon points="91.9,111.9 89.3,115.0 86.8,112.0 87.8,109.8 90.6,110.4"/><polygon points="84.3,6.8 86.2,9.3 83.2,10.2 81.7,8.8"/><polygon points="33.1,27.1 33.1,31.4 30.0,28.6"/><polygon points="41.2,22.9 38.2,23.2 40.3,20.4"/><polygon points="107.9,122.3 105.1,123.8 104.5,121.9 106.6,120.0"/><polygon points="131.9,75.1 128.5,76.9 127.7,73.8"/><polygon points="131.2,49.1 130.6,51.0 129.1,51.0 128.6,49.5"/><polygon points="91.5,73.1 89.7,74.8 88.2,73.1 89.7,72.0"/><polygon points="47.6,37.7 44.9,38.2 42.7,36.5 45.6,33.4 47.7,35.8"/><polygon points="54.1,59.3 57.4,57.0 59.6,59.3 57.8,61.1"/><polygon points="76.6,40.2 80.3,37.5 82.1,39.7 80.3,43.0 77.7,42.8"/><polygon points="29.2,90.1 30.6,91.9 29.7,92.5 28.5,92.1 28.0,90.7"/><polygon points="87.1,15.5 87.4,14.2 90.0,13.3 90.1,15.1 89.6,16.0"/><polygon points="27.9,114.2 28.8,117.1 25.1,118.8"/><polygon points="83.5,121.6 81.0,123.0 80.0,120.6 82.6,120.4"/><polygon points="24.2,53.9 25.5,53.9 25.8,55.9 23.8,55.4"/><polygon points="18.1,123.1 22.1,122.0 21.2,124.5"/><polygon points="117.0,46.1 113.5,45.8 114.6,42.9"/><polygon points="16.8,11.1 17.5,13.0 16.6,14.3 14.4,13.3 15.6,11.5"/><polygon points="27.5,61.1 25.7,62.8 24.5,61.9 25.9,59.4"/><polygon points="129.9,29.1 128.8,31.7 127.2,28.1"/><polygon points="62.6,15.7 60.7,14.2 61.9,13.2 63.3,13.7 63.6,15.3"/><polygon points="23.1,112.2 21.8,114.2 20.5,114.2 19.1,112.3 21.2,111.2"/><polygon points="58.3,109.3 57.5,111.4 54.1,111.7 55.3,108.7"/><polygon points="74.6,6.2 76.9,7.6 74.4,11.4 72.7,7.5"/><polygon points="82.8,104.7 81.4,106.0 79.4,104.5 80.9,102.7 82.1,103.1"/><polygon points="108.1,74.5 109.2,72.1 111.2,73.4 111.3,75.3 108.9,76.5"/><polygon points="68.6,60.3 66.7,60.5 66.8,58.5"/><polygon points="80.3,114.1 82.2,114.3 81.3,117.2 79.7,117.2 79.1,115.5"/><polygon points="105.5,5.1 105.0,6.3 103.1,5.8 103.4,3.9 105.8,3.7"/><polygon points="109.9,126.6 107.6,125.9 107.3,122.7 110.1,123.1 111.2,125.7"/><polygon points="29.4,14.1 33.8,13.2 32.3,17.3"/><polygon points="31.6,16.7 29.7,17.5 29.2,14.4 32.2,14.3"/><polygon points="90.5,105.5 87.9,105.6 89.5,103.4"/><polygon points="78.7,37.6 81.1,36.0 82.5,37.5 80.4,39.3"/><polygon points="99.2,64.5 98.2,61.9 99.5,60.7 101.4,61.6 100.9,64.8"/><polygon points="31.2,96.0 31.6,98.1 29.7,99.3 28.7,98.6 29.0,95.4"/><polygon points="52.3,77.4 52.6,79.6 50.2,79.1 50.9,77.8"/><polygon points="129.0,114.0 129.3,115.5 127.4,116.7 126.7,114.4"/><polygon points="1.9,71.4 1.0,73.7 -1.0,72.8 0.0,70.3"/><polygon points="19.6,30.4 19.6,28.3 21.9,28.7 22.2,30.6"/><polygon points="90.8,46.3 92.5,43.9 94.8,45.6 93.7,47.9"/><polygon points="69.6,70.5 68.0,71.1 66.9,68.4 69.2,67.8 69.7,69.6"/><polygon points="61.7,122.4 59.5,123.3 59.3,121.4 61.3,121.0"/><polygon points="29.9,48.3 29.6,45.5 33.0,46.3 33.3,48.8"/><polygon points="7.2,44.3 4.4,41.9 6.4,39.3 9.4,41.6"/><polygon points="23.9,9.0 26.5,10.7 22.6,13.4 21.0,11.8 22.5,8.2"/><polygon points="31.7,89.8 30.9,92.7 28.3,91.7"/><polygon points="22.9,72.0 23.5,70.4 24.8,69.7 25.2,71.9"/><polygon points="99.6,41.4 101.6,40.3 102.9,41.7 101.4,43.4"/><polygon points="31.5,50.7 34.2,50.0 33.6,52.9"/><polygon points="77.2,95.8 79.2,94.0 81.1,95.3 80.7,98.7"/><polygon points="124.1,47.4 127.4,44.7 128.2,48.1"/><polygon points="104.5,58.0 107.4,57.9 105.6,61.7"/><polygon points="57.9,81.2 59.4,79.4 61.4,78.6 62.1,82.6 59.9,82.9"/><polygon points="7.2,35.7 8.7,34.7 11.6,36.1 10.4,37.8 8.0,38.2"/><polygon points="83.3,93.8 85.1,94.7 85.1,97.7 81.9,98.2 80.7,95.6"/><polygon points="1.1,32.8 3.6,35.1 0.4,37.3 -1.1,35.5"/><polygon points="46.1,79.2 47.7,81.3 45.8,84.3 43.3,83.0 43.8,80.5"/><polygon points="6.0,72.7 7.4,71.5 9.8,74.4 8.0,75.3 5.9,74.6"/><polygon points="64.9,128.4 62.8,126.3 63.9,124.7 66.4,125.8"/><polygon points="74.8,19.8 75.1,17.4 76.9,17.8 77.3,20.1"/><polygon points="131.0,94.3 130.3,95.7 129.0,95.8 128.3,94.2 129.4,93.0"/><polygon points="12.4,102.4 11.1,102.2 11.3,99.8 13.4,100.4"/><polygon points="58.2,2.8 60.3,1.9 62.1,3.8 60.2,4.9 58.7,4.0"/><polygon points="80.9,54.9 79.3,53.0 79.9,50.6 82.1,51.9 82.9,53.2"/><polygon points="63.4,86.1 65.4,85.6 67.0,88.4 65.0,90.5 62.3,88.2"/><polygon points="119.1,61.9 120.2,60.2 121.5,60.8 121.7,62.6 120.2,62.6"/><polygon points="54.7,68.5 56.9,66.8 58.1,69.5"/><polygon points="12.4,118.1 15.2,117.7 14.4,120.6 11.8,119.6"/><polygon points="37.2,47.9 40.4,50.0 37.3,51.8"/><polygon points="116.3,75.1 114.0,75.7 113.3,73.5 114.9,71.0 117.1,72.4"/><polygon points="125.8,122.9 127.1,121.2 129.4,122.0 129.7,124.0 127.0,124.3"/><polygon points="10.4,76.7 12.0,77.4 11.5,79.1 9.6,79.4"/><polygon points="65.5,5.6 64.9,4.2 67.5,3.0 69.8,4.7 67.7,6.9"/><polygon points="119.9,7.0 117.5,9.1 117.0,6.4"/><polygon points="97.9,39.9 95.9,40.2 96.3,37.4"/><polygon points="21.8,94.5 23.9,93.0 25.3,96.5 22.1,97.7"/><polygon points="52.4,101.8 49.8,103.7 47.9,102.7 51.0,100.3"/><polygon points="7.2,108.2 11.5,105.9 12.0,109.9 8.3,110.1"/><polygon points="60.6,79.6 58.6,82.8 56.8,82.4 57.7,78.4"/><polygon points="72.4,90.9 74.5,91.7 72.1,93.1"/><polygon points="43.2,5.8 44.2,7.1 42.7,9.7 40.7,8.0 40.9,5.8"/><polygon points="5.7,76.8 4.8,78.2 2.1,78.2 1.9,76.3 5.3,74.9"/><polygon points="25.8,57.7 22.9,55.3 25.4,52.3 27.3,55.1"/><polygon points="37.9,78.4 34.4,82.1 33.2,77.7"/><polygon points="49.6,124.9 48.9,127.1 47.8,125.2"/><polygon points="125.9,11.7 125.4,10.4 127.4,8.7 127.9,10.4"/><polygon points="82.8,96.4 84.0,98.5 82.6,99.2 81.2,98.3"/><polygon points="39.5,121.9 36.4,121.8 38.3,119.7"/><polygon points="17.5,101.8 17.3,99.8 19.5,97.3 21.2,99.9 20.2,101.4"/><polygon points="66.9,7.1 68.9,9.6 65.8,9.7"/><polygon points="76.3,17.3 79.0,16.9 79.6,19.0 76.9,18.8"/><polygon points="21.6,69.3 23.8,67.3 25.0,68.6 24.2,72.0 21.4,70.7"/><polygon points="74.0,65.7 71.6,65.2 72.5,62.0 75.1,64.7"/><polygon points="124.9,80.6 127.1,77.5 128.5,79.6"/><polygon points="39.6,92.6 42.3,90.3 44.6,92.8 42.0,95.1"/><polygon points="53.9,14.3 54.5,13.5 55.7,13.4 56.2,14.6 54.2,15.9"/><polygon points="121.1,60.5 118.5,57.5 122.0,56.4 124.0,58.2"/><polygon points="53.3,85.6 52.6,87.9 50.5,86.6 51.4,84.9"/><polygon points="89.8,114.5 91.9,116.0 92.5,119.5 88.7,117.8"/></g></pattern><g id="gp"><circle r="15.3" fill="#12ea22"/><circle r="10.8" fill="#d8f4fa"/><circle r="6.4" fill="#fdf2fd"/><path d="M-11.0,0H11.0M0,-11.0V11.0" stroke="#3a0c2c" stroke-width="0.8"/><circle r="8.15" fill="none" stroke="#1a12c6" stroke-width="4.30"/><circle r="4.9" fill="#e4103c"/></g><g id="rp"><circle r="15.2" fill="#de0c40"/><circle r="10.6" fill="#f8d8f6"/><circle r="6.8" fill="#fdf2fd"/><path d="M-10.6,0H10.6M0,-10.6V10.6" stroke="#3a0c2c" stroke-width="0.8"/><circle r="8.12" fill="none" stroke="#1a12c6" stroke-width="3.65"/><circle r="4.5" fill="#e4103c"/></g><g id="gpL"><circle r="19.3" fill="#12ea22"/><circle r="13.9" fill="#c8f6fa"/><circle r="8.4" fill="#fdf2fd"/><path d="M-14,0H14M0,-14V14" stroke="#3a0c2c" stroke-width="1"/><circle r="10.65" fill="none" stroke="#1a12c6" stroke-width="4.6"/><circle r="5.1" fill="#e4103c"/></g><g id="rpL"><circle r="19.2" fill="#de0c40"/><circle r="13.6" fill="#f8d0f6"/><circle r="8.3" fill="#fdf2fd"/><path d="M-13.6,0H13.6M0,-13.6V13.6" stroke="#3a0c2c" stroke-width="1"/><circle r="10.45" fill="none" stroke="#1a12c6" stroke-width="4.7"/><circle r="5.2" fill="#e4103c"/></g></defs><rect x="150" y="927" width="230" height="343" fill="url(#sp)"/><rect x="402" y="682" width="393" height="572" fill="url(#sp)"/><g fill="none" stroke="#050505" stroke-width="1.9" stroke-linecap="square"><path d="M521,660V276.5H934"/><path d="M380,660H934"/><path d="M380,660V1275.5"/><path d="M380,1275.5H934"/><path d="M934,276.5V772H913V767.2H862.6V757.1H912.3V682.3"/><path d="M402,682.3H565.2"/><path d="M573.8,682.3H665.8"/><path d="M674.6,682.3H796"/><path d="M804.8,682.3H912.3"/><path d="M439,660V682.3"/><path d="M498.8,660V682.3"/><path d="M439,671.3H498.8"/><path d="M912.3,698.8H934"/><path d="M912.3,743.5H934"/><path d="M923.2,698.8V743.5"/><path d="M402,682.3V978.75"/><path d="M402,988V1254"/><path d="M380,769.4H402"/><path d="M391.3,769.4V891.5"/><path d="M380,891.5H391.3"/><path d="M380,1038.75H391.3"/><path d="M391.3,1038.75V1162"/><path d="M380,1162H402"/><path d="M428.75,1253.75H912.5"/><path d="M428.75,1253.75V1275.5"/><path d="M551.25,1253.75V1275.5"/><path d="M428.75,1265H551.25"/><path d="M751.3,1253.75V1275.5"/><path d="M873.8,1253.75V1275.5"/><path d="M751.3,1264.6H873.8"/><path d="M912.5,827V868H805.2V846.8H796.4V868H754.2V903.75H763V877.5H912.5V1031.25H763V956.25H754.2V1037.5H912.5V1101.25H748.75V1110H912.5V1253.75"/><path d="M927,834.5H934V1275.5"/><path d="M912.5,896.8H934"/><path d="M912.5,942.6H934"/><path d="M923.2,896.8V942.6"/><path d="M565.2,682.3V788.8H605"/><path d="M573.8,682.3V780H605.2V788.8"/><path d="M665.8,682.3V780H657.8V788.9H665.8V865.4H674.5V788.9H690.2V780H674.5V682.3"/><path d="M412,978.75H665.8V918.75H674.5V1032.5H665.8V988H402"/><path d="M665.8,1253.75V1085H674.5V1101.25H695V1110H674.5V1253.75"/><path d="M796,682.3V780H742.5V788.9H796V793.5H805.3V767.1H810.5V757.3H805.3V682.3"/><path d="M380,921.25H143.75V1275.75H380"/><path d="M380,927H150V1270H380"/></g><path d="M900.6,660V682" stroke="#111" stroke-width="1.6"/><use href="#rp" x="552.5" y="322"/><use href="#rp" x="725" y="322"/><use href="#rp" x="898" y="322"/><use href="#rp" x="552.5" y="471.5"/><use href="#rp" x="898" y="471.5"/><use href="#rp" x="552.5" y="621"/><use href="#rp" x="725" y="621"/><use href="#rp" x="898" y="621"/><use href="#gp" x="414" y="682.4"/><use href="#gp" x="511.3" y="682.4"/><use href="#gp" x="608.8" y="682.4"/><use href="#gp" x="706.2" y="682.4"/><use href="#gp" x="803.5" y="682.4"/><use href="#gp" x="900.6" y="682.4"/><use href="#gp" x="402.2" y="728"/><use href="#gp" x="402.2" y="808"/><use href="#gp" x="402.2" y="887.5"/><use href="#gp" x="402.2" y="967.5"/><use href="#gp" x="402.2" y="1047.5"/><use href="#gp" x="402.2" y="1207.5"/><use href="#gp" x="912.5" y="728"/><use href="#gp" x="912.5" y="827.2"/><use href="#gp" x="912.5" y="921"/><use href="#gp" x="912.5" y="1127.5"/><use href="#gp" x="912.5" y="1207.8"/><use href="#gp" x="603.7" y="798.7"/><use href="#gp" x="706" y="862.8"/><use href="#gp" x="600" y="949.5"/><use href="#gp" x="706" y="1033"/><use href="#gp" x="600.2" y="1124.2"/><use href="#gp" x="413.8" y="1253.7"/><use href="#gp" x="495" y="1251.3"/><use href="#gp" x="576.3" y="1251.3"/><use href="#gp" x="657.3" y="1253.7"/><use href="#gp" x="738.1" y="1253.6"/><use href="#gp" x="819.4" y="1253.6"/><use href="#gp" x="900.4" y="1253.6"/><use href="#gp" x="165" y="926.3"/><use href="#gp" x="278" y="926.3"/><use href="#gp" x="151.3" y="1050.8"/><use href="#gp" x="151.3" y="1151.3"/><use href="#gp" x="165" y="1269.5"/><use href="#gp" x="278" y="1269.5"/><text class="lbl" transform="translate(549.5,365.0) scale(1.17,1)" text-anchor="middle">1</text><text class="lbl" transform="translate(725.5,365.0) scale(1.17,1)" text-anchor="middle">2</text><text class="lbl" transform="translate(901.5,365.0) scale(1.17,1)" text-anchor="middle">3</text><text class="lbl" transform="translate(583.4,480.6) scale(1.17,1)" text-anchor="middle">8</text><text class="lbl" transform="translate(866.4,480.6) scale(1.17,1)" text-anchor="middle">4</text><text class="lbl" transform="translate(548.5,598.0) scale(1.17,1)" text-anchor="middle">7</text><text class="lbl" transform="translate(724.8,598.0) scale(1.17,1)" text-anchor="middle">6</text><text class="lbl" transform="translate(900.5,598.0) scale(1.17,1)" text-anchor="middle">5</text><text class="lbl" transform="translate(442.2,708.7) scale(1.125,1)" text-anchor="middle">18</text><text class="lbl" transform="translate(511.0,721.6) scale(1.125,1)" text-anchor="middle">17</text><text class="lbl" transform="translate(434.5,744.8) scale(1.125,1)" text-anchor="middle">19</text><text class="lbl" transform="translate(629.4,715.7) scale(1.125,1)" text-anchor="middle">15</text><text class="lbl" transform="translate(728.2,716.3) scale(1.125,1)" text-anchor="middle">13</text><text class="lbl" transform="translate(823.4,715.2) scale(1.125,1)" text-anchor="middle">12</text><text class="lbl" transform="translate(873.4,706.8) scale(1.125,1)" text-anchor="middle">11</text><text class="lbl" transform="translate(881.2,750.0) scale(1.125,1)" text-anchor="middle">10</text><text class="lbl" transform="translate(601.2,838.8) scale(1.125,1)" text-anchor="middle">16</text><text class="lbl" transform="translate(435.4,816.3) scale(1.125,1)" text-anchor="middle">20</text><text class="lbl" transform="translate(435.1,895.5) scale(1.125,1)" text-anchor="middle">21</text><text class="lbl" transform="translate(704.5,842.9) scale(1.125,1)" text-anchor="middle">14</text><text class="lbl" transform="translate(884.4,834.5) scale(1.17,1)" text-anchor="middle">9</text><text class="lbl" transform="translate(877.0,930.0) scale(1.125,1)" text-anchor="middle">24</text><text class="lbl" transform="translate(600.0,928.8) scale(1.125,1)" text-anchor="middle">23</text><text class="lbl" transform="translate(436.2,972.5) scale(1.125,1)" text-anchor="middle">22</text><text class="lbl" transform="translate(436.8,1051.3) scale(1.125,1)" text-anchor="middle">27</text><text class="lbl" transform="translate(705.4,1010.0) scale(1.125,1)" text-anchor="middle">25</text><text class="lbl" transform="translate(599.0,1103.8) scale(1.125,1)" text-anchor="middle">26</text><text class="lbl" transform="translate(433.2,1194.5) scale(1.125,1)" text-anchor="middle">28</text><text class="lbl" transform="translate(437.6,1238.8) scale(1.125,1)" text-anchor="middle">29</text><text class="lbl" transform="translate(496.0,1230.5) scale(1.125,1)" text-anchor="middle">30</text><text class="lbl" transform="translate(576.0,1228.8) scale(1.125,1)" text-anchor="middle">31</text><text class="lbl" transform="translate(646.0,1232.5) scale(1.125,1)" text-anchor="middle">32</text><text class="lbl" transform="translate(737.0,1233.2) scale(1.125,1)" text-anchor="middle">39</text><text class="lbl" transform="translate(817.1,1233.2) scale(1.125,1)" text-anchor="middle">40</text><text class="lbl" transform="translate(869.3,1241.9) scale(1.125,1)" text-anchor="middle">41</text><text class="lbl" transform="translate(877.9,1206.7) scale(1.125,1)" text-anchor="middle">42</text><text class="lbl" transform="translate(877.5,1135.5) scale(1.125,1)" text-anchor="middle">43</text><text class="lbl" transform="translate(186.0,967.5) scale(1.125,1)" text-anchor="middle">34</text><text class="lbl" transform="translate(278.2,967.5) scale(1.125,1)" text-anchor="middle">33</text><text class="lbl" transform="translate(184.0,1061.3) scale(1.125,1)" text-anchor="middle">35</text><text class="lbl" transform="translate(186.0,1160.8) scale(1.125,1)" text-anchor="middle">36</text><text class="lbl" transform="translate(185.8,1252.5) scale(1.125,1)" text-anchor="middle">37</text><text class="lbl" transform="translate(280.1,1249.5) scale(1.125,1)" text-anchor="middle">38</text><g><rect x="966.5" y="1268.5" width="238.5" height="15" fill="#fff" stroke="#000" stroke-width="1.6"/><rect x="1025.6" y="1268.5" width="60" height="15" fill="#000"/><rect x="1143.5" y="1268.5" width="61.5" height="15" fill="#000"/><text x="962.4" y="1265.5" font-family="Liberation Sans" font-size="14" letter-spacing="-0.5" fill="#000">0m</text><text x="1021.8" y="1265.5" font-family="Liberation Sans" font-size="14" letter-spacing="-0.5" fill="#000">1m</text><text x="1080.5" y="1265.5" font-family="Liberation Sans" font-size="14" letter-spacing="-0.5" fill="#000">2m</text><text x="1139" y="1265.5" font-family="Liberation Sans" font-size="14" letter-spacing="-0.5" fill="#000">3m</text><text x="1198" y="1265.5" font-family="Liberation Sans" font-size="14" letter-spacing="-0.5" fill="#000">4m</text></g><rect x="18" y="1306" width="1203" height="34" fill="#dcdcdc"/><g font-family="Liberation Sans" font-size="20.5" fill="#555"><text x="27.2" y="1328.3">Symbol:</text><text x="121" y="1330.8">Nummer:</text><text x="228.3" y="1328.6">Beschreibung:</text></g><g stroke="#bdbdbd" stroke-width="1"><path d="M115.5,1312V1336M212.5,1312V1336"/><path d="M18,1401.5H1221"/><path d="M18,1460.5H1221"/><path d="M18,1522.5H1221"/><path d="M17.5,1349V1392M115.5,1349V1392M212.5,1349V1392M1221.5,1349V1392" stroke="#a8a8a8"/><path d="M17.5,1408V1451.5M115.5,1408V1451.5M212.5,1408V1451.5M1221.5,1408V1451.5" stroke="#a8a8a8"/><path d="M17.5,1467.5V1511M115.5,1467.5V1511M212.5,1467.5V1511M1221.5,1467.5V1511" stroke="#a8a8a8"/></g><use href="#gpL" x="66.3" y="1369.5"/><use href="#rpL" x="67.3" y="1488.5"/><rect x="41.5" y="1410" width="50" height="37.5" fill="url(#sp)" stroke="#d2a926" stroke-width="1.5"/><g font-family="Liberation Sans" font-size="20.6" fill="#000"><text x="164.3" y="1377" text-anchor="middle">35</text><text x="164.3" y="1495" text-anchor="middle">08</text><text x="221" y="1363">Lift Pile - Mikropfähle MP60 aus Stahl (CE gekennzeichnetes Produkt EN 1090-1:2009) vorgespannt</text><text x="221" y="1387.5">(europäisches Patent Nr. 2918731) für die Anhebung des Bauwerks</text><text x="221" y="1433">High density Harzinjektionen Kerastable Typ HDR (schäumende Polymere)</text><text x="221" y="1480.5">Lift Pile Stabilisierung - Mikropfähle MP60 aus Stahl (CE-gekennzeichnetes Produkt EN 1090-1:2009)</text><text x="221" y="1505.5">vorgespannt (europäisches Patent Nr. 2918731)</text></g></svg></body></html>
